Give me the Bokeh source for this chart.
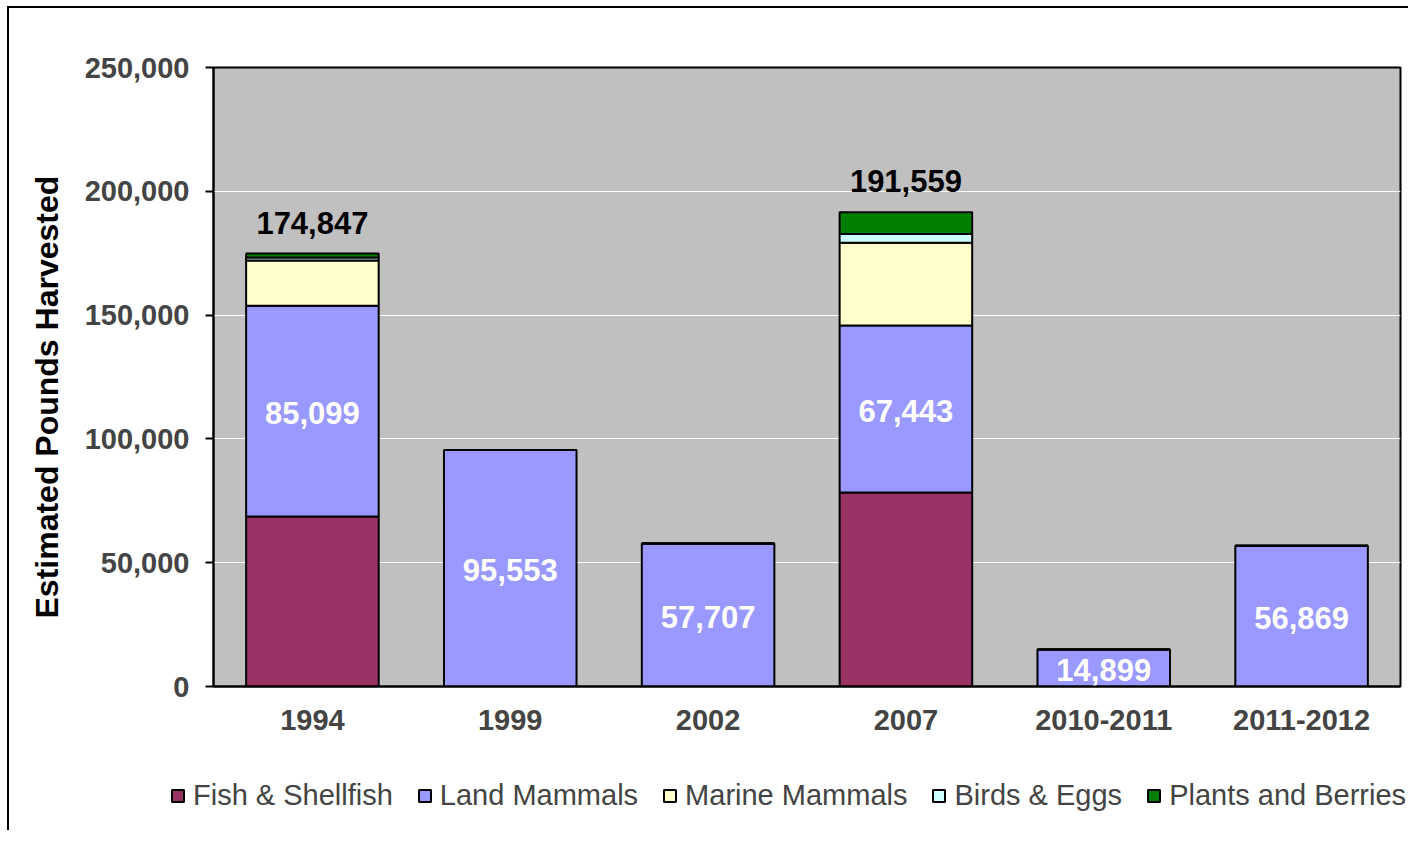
from bokeh.plotting import figure
from bokeh.models import (ColumnDataSource, FactorRange, FixedTicker, NumeralTickFormatter,
                          Legend, LegendItem, Title, Range1d)
from bokeh.core.properties import value
from bokeh.embed import file_html
from bokeh.resources import INLINE

years = ["1994", "1999", "2002", "2007", "2010-2011", "2011-2012"]
fish = [68700, 0, 0, 78400, 0, 0]
land = [85099, 95553, 57707, 67443, 14899, 56869]
marine = [18300, 0, 0, 33400, 0, 0]
birds = [1200, 0, 0, 3500, 0, 0]
plants = [1548, 0, 0, 8816, 0, 0]
series_names = ["Fish & Shellfish", "Land Mammals", "Marine Mammals", "Birds & Eggs", "Plants and Berries"]
series_keys = ["fish", "land", "marine", "birds", "plants"]
colors = ["#993366", "#9999FF", "#FFFFCC", "#CCFFFF", "#008000"]
land_labels = ["85,099", "95,553", "57,707", "67,443", "14,899", "56,869"]
total_years = ["1994", "2007"]
total_values = [174847, 191559]
total_labels = ["174,847", "191,559"]
y_ticks = [0, 50000, 100000, 150000, 200000, 250000]
y_title = "Estimated Pounds Harvested"

FONT = "Liberation Sans"

source = ColumnDataSource(dict(years=years, fish=fish, land=land, marine=marine,
                               birds=birds, plants=plants))

p = figure(x_range=FactorRange(*years), y_range=(0, 250000),
           frame_width=1187, frame_height=619,
           min_border_left=204, min_border_top=59, min_border_right=8, min_border_bottom=64,
           output_backend="svg", toolbar_location=None)
p.styles = {"margin-left": "7px", "margin-top": "6px",
            "border-left": "2px solid black", "border-top": "2px solid black"}

p.background_fill_color = "#C0C0C0"
p.border_fill_color = "white"
p.outline_line_color = "black"
p.outline_line_width = 2

renderers = p.vbar_stack(series_keys, x="years", width=0.67, source=source,
                         fill_color=colors, line_color="black", line_width=2)

# land labels at segment centers
land_mid = [f + l / 2 for f, l in zip(fish, land)]
lab_src = ColumnDataSource(dict(x=years, y=land_mid, t=land_labels))
p.text(x="x", y="y", text="t", source=lab_src, text_color="white",
       text_font=value(FONT), text_font_style="bold", text_font_size="31px",
       text_align="center", text_baseline="middle", y_offset=2)

tot_src = ColumnDataSource(dict(x=total_years, y=total_values, t=total_labels))
p.text(x="x", y="y", text="t", source=tot_src, text_color="black",
       text_font=value(FONT), text_font_style="bold", text_font_size="31px",
       text_align="center", text_baseline="bottom", y_offset=-20)

# axes
p.yaxis.ticker = FixedTicker(ticks=y_ticks)
p.yaxis.formatter = NumeralTickFormatter(format="0,0")
p.yaxis.major_label_text_font = FONT
p.yaxis.major_label_text_font_style = "bold"
p.yaxis.major_label_text_font_size = "29px"
p.yaxis.major_label_standoff = 16
p.yaxis.major_tick_out = 8
p.yaxis.major_tick_in = 0
p.yaxis.major_tick_line_width = 2
p.yaxis.minor_tick_line_color = None
p.yaxis.axis_line_width = 2

p.add_layout(Title(text=y_title, align="left", offset=68, standoff=34,
                   text_font=FONT, text_font_style="bold", text_font_size="32px",
                   text_color="black"), "left")

p.xaxis.major_label_text_font = FONT
p.xaxis.major_label_text_font_style = "bold"
p.xaxis.major_label_text_font_size = "29px"
p.xaxis.major_tick_line_color = None
p.xaxis.major_label_standoff = 17
p.xaxis.axis_line_width = 2

p.xgrid.grid_line_color = None
p.ygrid.grid_line_color = "white"
p.ygrid.grid_line_width = 1
p.ygrid.ticker = FixedTicker(ticks=y_ticks)

# legend strip below the chart (separate root, so no frame alignment)
leg = figure(width=1399, height=80, min_border=0, x_axis_type=None, y_axis_type=None,
             x_range=FactorRange(*years), y_range=Range1d(0, 250000),
             output_backend="svg", toolbar_location=None)
leg.styles = {"margin-left": "7px", "border-left": "2px solid black"}
leg.outline_line_color = None
leg.background_fill_color = "white"
leg.border_fill_color = "white"
leg.grid.grid_line_color = None
leg_renderers = leg.vbar_stack(series_keys, x="years", width=0.67, source=source,
                               fill_color=colors, line_color="black", line_width=2)
for r in leg_renderers:
    r.visible = False
items = [LegendItem(label=n, renderers=[r]) for n, r in zip(series_names, leg_renderers)]
legend = Legend(items=items, orientation="horizontal", location=(161, 18),
                glyph_width=15, glyph_height=15, label_standoff=8, spacing=24,
                padding=0, margin=0, border_line_color=None, background_fill_alpha=0,
                label_text_font=FONT, label_text_font_size="29px")
leg.add_layout(legend, "center")

open("out.html", "w").write(file_html([p, leg], INLINE))
